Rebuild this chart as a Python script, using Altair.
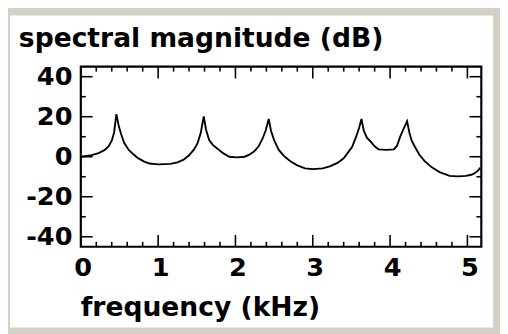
import altair as alt
import pandas as pd

# --- data ---
freq_khz = [0.00, 0.12, 0.23, 0.31, 0.36, 0.40, 0.43, 0.46, 0.49, 0.52, 0.56, 0.62, 0.68, 0.74, 0.82, 0.89,
            1.00, 1.16, 1.25, 1.33, 1.40, 1.46, 1.51, 1.55, 1.59, 1.62, 1.66, 1.71, 1.76, 1.84, 1.92,
            2.02, 2.12, 2.18, 2.24, 2.30, 2.35, 2.39, 2.43, 2.46, 2.50, 2.56, 2.63, 2.71, 2.80, 2.90,
            3.00, 3.13, 3.22, 3.32, 3.40, 3.45, 3.51, 3.56, 3.60, 3.63, 3.66, 3.70, 3.75, 3.80, 3.85,
            3.95, 4.05, 4.09, 4.13, 4.17, 4.22, 4.25, 4.28, 4.32, 4.38, 4.45, 4.54, 4.64, 4.77,
            4.88, 4.98, 5.05, 5.09, 5.13, 5.17]
magnitude_db = [0.0, 0.6, 1.8, 3.4, 5.3, 8.0, 12.0, 21.3, 15.5, 11.5, 7.0, 3.4, 1.2, -0.7, -2.4, -3.4,
                -3.8, -3.6, -2.8, -1.5, 0.7, 3.4, 6.8, 11.7, 20.1, 13.5, 8.3, 5.8, 4.2, 1.8, 0.0,
                -0.3, 0.0, 1.0, 2.6, 5.2, 9.0, 13.0, 18.9, 13.0, 8.3, 3.4, 0.3, -2.3, -4.3, -5.8,
                -6.2, -5.8, -4.8, -3.1, -0.8, 1.8, 5.0, 9.9, 14.5, 18.9, 13.0, 9.5, 7.5, 5.2, 3.7,
                3.4, 3.7, 5.5, 9.9, 13.5, 17.7, 12.0, 8.0, 5.0, 1.0, -2.3, -5.3, -7.7, -9.6,
                -9.8, -9.6, -9.0, -8.3, -7.2, -5.5]

x_major = [0, 1, 2, 3, 4, 5]
x_minor = [0.2, 0.4, 0.6, 0.8, 1.2, 1.4, 1.6, 1.8, 2.2, 2.4, 2.6, 2.8,
           3.2, 3.4, 3.6, 3.8, 4.2, 4.4, 4.6, 4.8]
y_major = [-40, -20, 0, 20, 40]
y_minor = [-30, -10, 10, 30]

y_title = "spectral magnitude (dB)"
x_title = "frequency (kHz)"

W, H = 407, 183
X_DOMAIN = [0, 5.18]
Y_DOMAIN = [-45, 45]
FONT = "DejaVu Sans"
MAJ, MIN = 12, 5

curve = pd.DataFrame({"f": freq_khz, "db": magnitude_db})
xmaj = pd.DataFrame({"f": x_major})
xmin = pd.DataFrame({"f": x_minor})
ymaj = pd.DataFrame({"db": y_major})
ymin = pd.DataFrame({"db": y_minor})
one = pd.DataFrame({"t": [y_title]})
two = pd.DataFrame({"t": [x_title]})

xs = alt.Scale(domain=X_DOMAIN, nice=False, zero=False)
ys = alt.Scale(domain=Y_DOMAIN, nice=False, zero=False)

x_axis = alt.Axis(values=x_major, ticks=False, domain=False, grid=False, labelFlush=False,
                  labelFont=FONT, labelFontSize=26, labelFontWeight="bold",
                  labelColor="black", labelPadding=8, title=None, zindex=1, labelOffset=2)
y_axis = alt.Axis(values=y_major, ticks=False, domain=False, grid=False, labelFlush=False,
                  labelFont=FONT, labelFontSize=26, labelFontWeight="bold",
                  labelColor="black", labelPadding=9, title=None, zindex=1,
                  labelExpr="datum.value < 0 ? '-' + abs(datum.value) : '' + datum.value")

X = alt.X("f:Q", scale=xs, axis=x_axis)
Y = alt.Y("db:Q", scale=ys, axis=y_axis)

panel = alt.Chart(one).mark_rect(fill="white").encode(
    x=alt.value(-72), x2=alt.value(419), y=alt.value(-52), y2=alt.value(265))

line = alt.Chart(curve).mark_line(color="black", strokeWidth=1.9, interpolate="linear").encode(x=X, y=Y)

def xticks(df, length):
    b = alt.Chart(df).mark_rule(color="black", strokeWidth=1.6).encode(
        x=X, y=alt.value(H), y2=alt.value(H - length))
    t = alt.Chart(df).mark_rule(color="black", strokeWidth=1.6).encode(
        x=X, y=alt.value(0), y2=alt.value(length))
    return [b, t]

def yticks(df, length):
    l = alt.Chart(df).mark_rule(color="black", strokeWidth=1.6).encode(
        y=Y, x=alt.value(0), x2=alt.value(length))
    r = alt.Chart(df).mark_rule(color="black", strokeWidth=1.6).encode(
        y=Y, x=alt.value(W), x2=alt.value(W - length))
    return [l, r]

frame = alt.Chart(one).mark_rect(fill=None, stroke="black", strokeWidth=2.2).encode(
    x=alt.value(0), x2=alt.value(W), y=alt.value(0), y2=alt.value(H))

ttl_y = alt.Chart(one).mark_text(font=FONT, fontSize=27, fontWeight="bold", color="black",
                                 align="left", baseline="alphabetic").encode(
    text="t:N", x=alt.value(-63), y=alt.value(-20))
ttl_x = alt.Chart(two).mark_text(font=FONT, fontSize=27, fontWeight="bold", color="black",
                                 align="left", baseline="alphabetic").encode(
    text="t:N", x=alt.value(0), y=alt.value(253))

layers = [panel] + xticks(xmaj, MAJ) + xticks(xmin, MIN) + yticks(ymaj, MAJ) + yticks(ymin, MIN) + [line, frame, ttl_y, ttl_x]

chart = alt.layer(*layers).properties(
    width=W, height=H,
    autosize=alt.AutoSizeParams(type="none"),
    padding={"left": 74, "top": 57, "right": 19, "bottom": 86},
    background="#d4d0c8",
).configure_view(stroke=None, fill=None)

chart.save("out.html", embed_options={"renderer": "svg", "actions": False})
